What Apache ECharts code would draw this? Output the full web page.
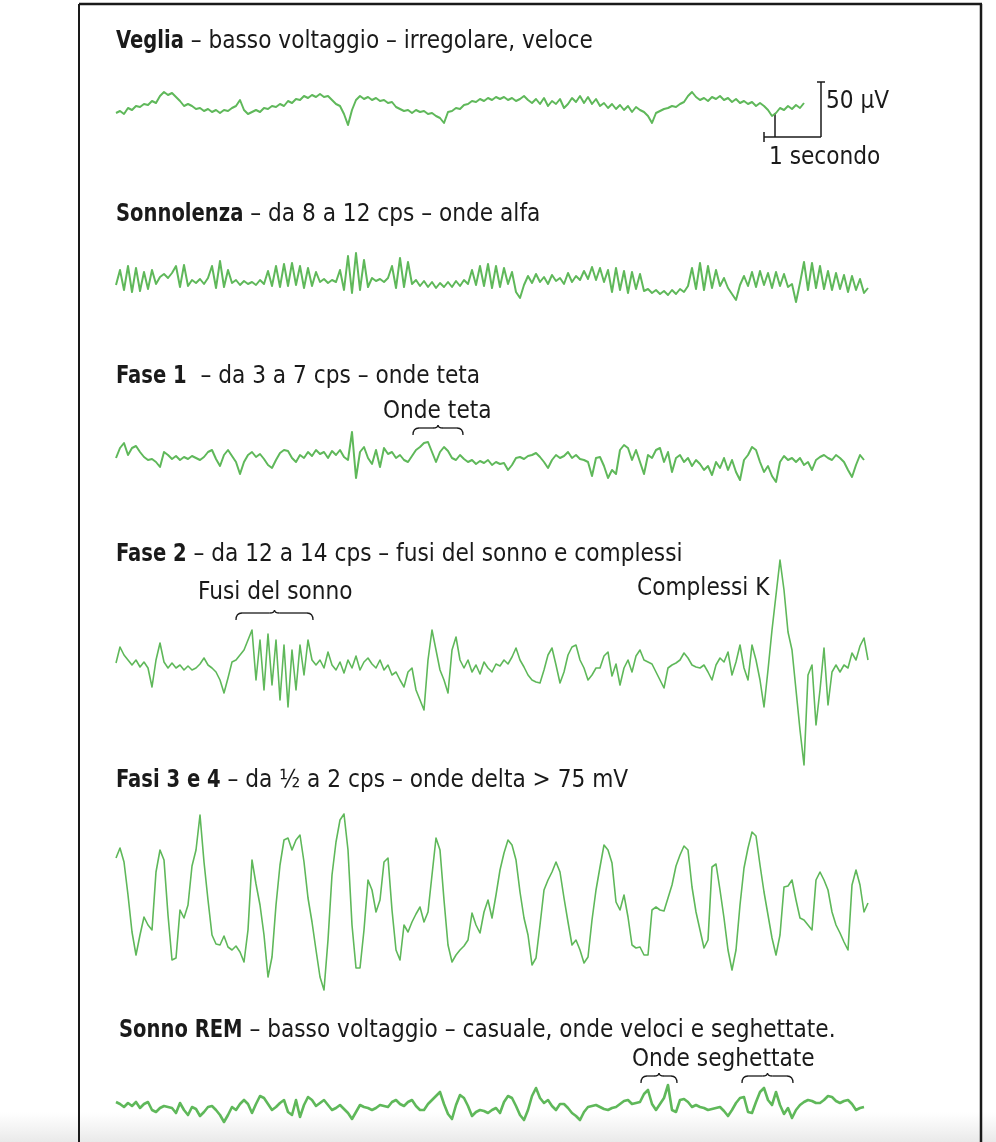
<!DOCTYPE html>
<html>
<head>
<meta charset="utf-8">
<title>EEG – fasi del sonno</title>
<script src="https://cdn.jsdelivr.net/npm/echarts@6/dist/echarts.min.js"></script>
<style>
  html, body { margin: 0; padding: 0; background: #fff; }
  #chart { width: 996px; height: 1142px; }
</style>
</head>
<body>
<div id="chart"></div>
<script>
const veglia = [-6,-4,-7,-1,-3,1,0,3,2,6,4,11,15,12,14,10,6,1,3,1,-2,-1,-4,-2,-5,-3,-6,-3,-4,-1,1,7,-3,-7,-5,-3,-5,-1,-2,1,0,3,1,6,4,8,7,11,9,12,10,13,10,11,7,3,1,-7,-18,-3,7,11,8,10,7,9,6,7,4,5,0,-2,-4,-3,-6,-3,-5,-4,-7,-6,-9,-11,-16,-5,-4,-1,-2,2,3,6,5,8,6,9,7,10,8,10,7,9,6,8,11,7,4,8,3,9,1,6,3,8,-1,3,9,5,11,4,10,3,8,1,4,-1,3,-2,2,-3,1,-5,0,-3,-5,-9,-16,-6,-4,-2,-1,1,0,3,5,11,15,10,7,9,6,10,8,11,7,9,5,8,4,6,3,5,1,4,1,-3,-9,-6,-1,-3,1,-2,2,-1,4];

const sonnolenza = [-5,10,-10,14,-12,12,-11,8,-9,10,-4,3,6,2,7,14,-7,15,-6,0,-3,1,-4,2,14,-8,19,-7,10,-3,0,-5,-1,-4,-2,-5,0,-4,9,-6,14,-7,16,-6,17,-5,14,-8,12,-6,8,-2,1,-3,0,-2,10,-10,24,-13,27,-10,20,-7,2,-1,1,-2,2,14,-8,22,-7,18,-4,0,-6,-1,-7,-2,-8,-3,-7,-2,-7,-1,-6,0,-4,10,-5,14,-6,16,-8,14,-7,12,-4,8,-12,-18,-5,4,-3,6,-2,3,-4,5,-1,2,-4,7,-2,4,0,9,1,13,0,12,-2,10,-12,12,-10,9,-13,8,-9,6,-11,-9,-13,-10,-14,-11,-15,-10,-14,-9,-12,-6,12,-9,17,-10,14,-8,10,-6,2,-8,-14,-20,-5,4,-6,8,-7,9,-5,7,-8,8,-6,6,-7,-4,-22,-3,18,-10,17,-8,14,-9,9,-10,7,-9,5,-12,4,-10,1,-13,-8];

const fase1 = [0,10,15,3,10,12,6,1,-2,-1,-4,-9,6,3,-1,2,-2,1,-1,2,0,-2,1,6,8,-1,-8,3,8,2,-4,-16,-4,3,6,1,4,-1,-7,-10,-2,5,8,7,0,-4,3,0,6,2,8,4,6,0,7,3,8,1,-2,26,-20,6,11,0,-6,8,-9,10,4,6,0,3,-2,-4,2,8,11,15,16,6,-4,6,11,7,0,-2,3,-1,-4,-2,-6,-3,-5,-2,-7,-4,-6,-5,-12,-7,0,1,-1,2,3,5,1,-4,-10,-2,3,0,2,6,0,3,-1,-2,-4,-18,0,1,-8,-20,-12,-16,8,13,10,-2,8,-4,-16,3,0,8,10,-4,6,-14,0,3,-4,0,-8,-2,-6,-12,-8,-17,-4,-10,0,-12,-2,-14,-22,-2,3,11,8,-4,-14,-8,-18,-24,-4,2,-2,0,-4,0,-7,-4,-12,-2,1,3,0,-2,3,0,-4,-12,-19,-7,3,-2];

const fase2 = [0,16,8,3,-2,3,-4,1,-5,-24,3,20,1,-5,0,-5,-2,-7,-3,-7,-5,-1,5,-2,-5,-9,-17,-30,-15,1,3,8,13,23,33,-17,23,-27,29,-22,23,-37,18,-44,13,-27,18,-12,23,3,-2,3,-5,11,-2,-7,1,-10,3,-5,7,-7,1,5,-1,-5,3,-7,-2,-12,-9,-17,-24,-9,-5,-27,-37,-47,3,33,13,-7,-17,-30,13,26,3,-5,3,-9,-2,-11,1,-5,-9,-1,-3,3,-1,6,15,3,-4,-12,-17,-19,-20,-7,8,15,-2,-20,-9,8,16,18,3,-5,-17,-12,-5,-5,7,11,-13,-1,-22,-5,3,-9,7,13,3,1,-1,-9,-17,-25,-5,-2,0,3,10,5,-2,-4,-5,-2,-9,-17,-2,5,1,11,-12,1,18,-5,-17,18,3,-17,-44,-7,33,68,103,73,31,13,-27,-67,-102,-12,-2,-62,-27,15,-42,-9,-2,-9,-2,-5,10,3,17,25,3];

const fasi34 = [42,52,38,5,-32,-55,-35,-17,-25,-30,28,50,40,-15,-60,-58,-10,-18,-5,34,50,85,38,0,-35,-44,-45,-36,-47,-50,-46,-52,-62,-30,40,16,-5,-35,-77,-57,-5,35,60,62,50,60,65,38,2,-22,-50,-77,-90,-40,25,58,80,86,50,-25,-68,-68,-30,20,10,-12,0,38,42,-10,-50,-60,-25,-32,-22,-14,-7,-22,-12,25,62,50,0,-45,-62,-55,-50,-46,-40,-13,-25,-33,-12,0,-18,5,30,47,60,55,40,8,-18,-35,-65,-58,-25,10,20,28,38,28,2,-22,-45,-40,-50,-63,-57,-20,10,33,55,50,37,-2,-10,5,-17,-45,-48,-47,-55,-55,-10,-7,-10,-11,2,15,34,45,54,50,13,-12,-30,-48,-40,33,36,10,-18,-50,-70,-50,-5,32,52,68,64,35,8,-15,-38,-55,-35,13,14,20,0,-18,-20,-25,-30,20,28,20,10,-12,-25,-33,-42,-50,15,30,15,-12,-3];

const rem = [3,1,-2,2,-1,3,-3,1,3,-5,-7,-3,-1,-2,-3,-8,2,-5,-10,-2,-4,-11,-7,-2,-1,-5,-10,-17,-10,-2,-5,1,5,1,-8,1,9,7,1,-5,-2,2,5,-7,-10,5,-12,0,8,5,-1,2,5,0,-5,-3,0,-4,-8,-14,-7,0,-2,-3,-5,-3,0,-1,-2,3,5,1,-1,3,5,-1,-5,-5,1,5,9,13,1,-9,-14,0,10,7,-1,-11,-7,-5,-6,-8,-5,-3,-8,3,9,7,-1,-10,-15,-5,9,17,7,2,5,-1,-5,1,1,-3,-8,-11,-15,-7,-2,-1,0,-2,-4,-5,-3,-2,1,4,5,1,2,3,11,15,1,-5,1,7,20,-5,-7,5,6,3,-2,0,-2,-3,-5,-4,-3,-2,-6,-11,-5,2,7,8,-7,-8,3,13,17,5,0,13,0,-9,-3,-13,-5,0,3,5,4,2,2,5,9,8,4,2,4,5,1,-5,-3,-2];

const headings = [
  ['Veglia', ' – basso voltaggio – irregolare, veloce'],
  ['Sonnolenza', ' – da 8 a 12 cps – onde alfa'],
  ['Fase 1', '  – da 3 a 7 cps – onde teta'],
  ['Fase 2', ' – da 12 a 14 cps – fusi del sonno e complessi'],
  ['Fasi 3 e 4', ' – da ½ a 2 cps – onde delta > 75 mV'],
  ['Sonno REM', ' – basso voltaggio – casuale, onde veloci e seghettate.']
];
const notes = ['Onde teta', 'Fusi del sonno', 'Complessi K', 'Onde seghettate', '50 μV', '1 secondo'];

// layout of each strip: baseline y, half height (same units as the data), line width
const rows = [
  { data: veglia,     base: 107,  half: 25,  lw: 2,   head: [116, 41] },
  { data: sonnolenza, base: 280,  half: 32,  lw: 2,   head: [116, 214] },
  { data: fase1,      base: 458,  half: 32,  lw: 2,   head: [116, 376] },
  { data: fase2,      base: 663,  half: 110, lw: 1.6, head: [116, 554] },
  { data: fasi34,     base: 900,  half: 100, lw: 1.6, head: [116, 780] },
  { data: rem,        base: 1105, half: 25,  lw: 2.6, head: [119, 1030] }
];
const STEP = 4;
const GREEN = '#5fb85a';
const INK = '#1a1a1a';
const FONT = '"Liberation Sans Narrow", "Arial Narrow", "DejaVu Sans Condensed", sans-serif';
const FS = 25;
const SQ_BOLD = 0.87, SQ_REG = 0.965;   // horizontal squeeze to mimic the condensed face

const chart = echarts.init(document.getElementById('chart'), null, { renderer: 'canvas' });

const grids = [], xAxes = [], yAxes = [], series = [];
rows.forEach((r, i) => {
  grids.push({ left: 116, top: r.base - r.half, width: (r.data.length - 1) * STEP, height: r.half * 2 });
  xAxes.push({ type: 'category', gridIndex: i, show: false, boundaryGap: false,
    data: r.data.map((_, k) => k) });
  yAxes.push({ type: 'value', gridIndex: i, show: false, min: -r.half, max: r.half });
  series.push({ type: 'line', xAxisIndex: i, yAxisIndex: i, data: r.data, symbol: 'none',
    silent: true, clip: false, lineStyle: { color: GREEN, width: r.lw, join: 'round' } });
});

const ctx = document.createElement('canvas').getContext('2d');
function textWidth(s, bold) {
  ctx.font = (bold ? 'bold ' : '') + FS + 'px ' + FONT;
  return ctx.measureText(s).width;
}
function label(text, x, y, bold) {
  return { type: 'text', x, y, silent: true, scaleX: bold ? SQ_BOLD : SQ_REG,
    style: { text, fill: INK, fontSize: FS, fontFamily: FONT, fontWeight: bold ? 'bold' : 'normal',
      verticalAlign: 'middle' } };
}
function seg(x1, y1, x2, y2, w) {
  return { type: 'line', silent: true, shape: { x1, y1, x2, y2 }, style: { stroke: INK, lineWidth: w || 1.5 } };
}
function curve(x1, y1, cpx1, cpy1, x2, y2) {
  return { type: 'bezierCurve', silent: true, shape: { x1, y1, cpx1, cpy1, x2, y2 },
    style: { stroke: INK, lineWidth: 1.3, fill: null } };
}
function brace(x0, x1, t) {
  const m = (x0 + x1) / 2, h = 10, b = t + 3;
  return { type: 'group', silent: true, children: [
    curve(x0, t + h, x0, b, x0 + 6, b), seg(x0 + 6, b, m - 5, b, 1.3),
    curve(m - 5, b, m, b, m, t), curve(m, t, m, b, m + 5, b),
    seg(m + 5, b, x1 - 6, b, 1.3), curve(x1 - 6, b, x1, b, x1, t + h)
  ] };
}

const graphic = [
  // bottom shading and frame
  { type: 'rect', silent: true, shape: { x: 0, y: 1112, width: 996, height: 30 },
    style: { fill: new echarts.graphic.LinearGradient(0, 0, 0, 1, [
      { offset: 0, color: 'rgba(236,236,236,0)' }, { offset: 1, color: '#e9e9e9' }]) } },
  seg(79, 4, 982, 4, 2.5),
  seg(79, 4, 79, 1142, 2),
  seg(981, 4, 981, 1142, 2.5)
];
rows.forEach((r, i) => {
  const [b, rest] = headings[i];
  const x = r.head[0], y = r.head[1];
  graphic.push(label(b, x, y, true));
  graphic.push(label(rest, x + textWidth(b, true) * SQ_BOLD, y, false));
});
graphic.push(
  label(notes[0], 383, 411), brace(413, 463, 425),
  label(notes[1], 198, 592), brace(236, 313, 610),
  label(notes[2], 637, 588),
  label(notes[3], 632, 1059), brace(641, 677, 1073), brace(742, 793, 1073),
  label(notes[4], 826, 101),
  label(notes[5], 769, 157),
  // calibration bar
  seg(821, 82, 821, 137), seg(817, 82, 825, 82),
  seg(764, 137, 821, 137), seg(764, 132, 764, 142),
  seg(775, 113, 775, 137)
);

chart.setOption({
  animation: false,
  backgroundColor: '#fff',
  grid: grids,
  xAxis: xAxes,
  yAxis: yAxes,
  series,
  graphic
});
</script>
</body>
</html>
